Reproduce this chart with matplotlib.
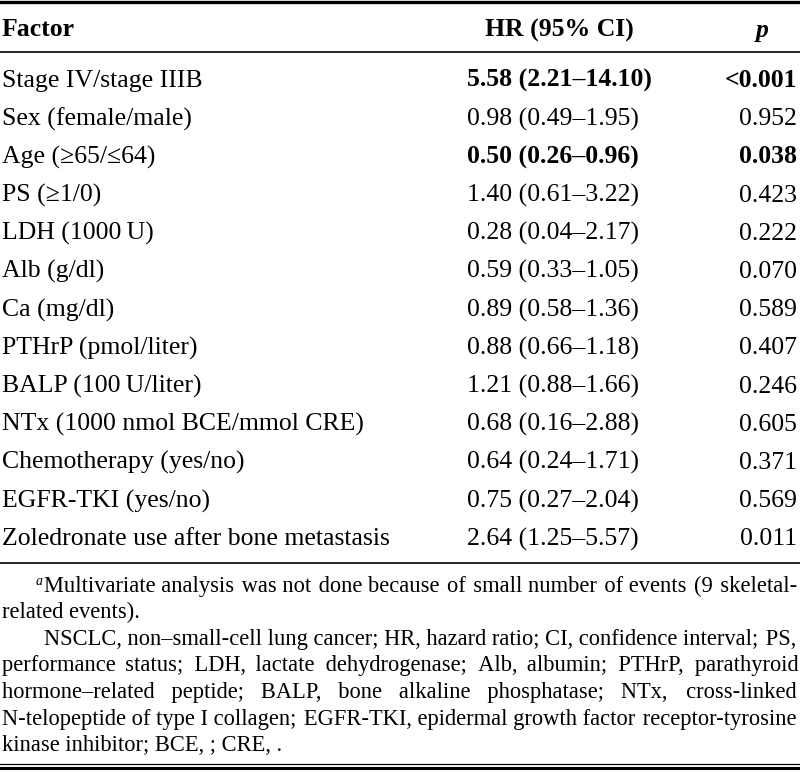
import matplotlib.pyplot as plt

# table contents
factors = ["Stage IV/stage IIIB", "Sex (female/male)", "Age (≥65/≤64)", "PS (≥1/0)",
           "LDH (1000\u2009U)", "Alb (g/dl)", "Ca (mg/dl)", "PTHrP (pmol/liter)",
           "BALP (100\u2009U/liter)", "NTx (1000 nmol BCE/mmol CRE)",
           "Chemotherapy (yes/no)", "EGFR-TKI (yes/no)",
           "Zoledronate use after bone metastasis"]
hr = [5.58, 0.98, 0.50, 1.40, 0.28, 0.59, 0.89, 0.88, 1.21, 0.68, 0.64, 0.75, 2.64]
ci_low = [2.21, 0.49, 0.26, 0.61, 0.04, 0.33, 0.58, 0.66, 0.88, 0.16, 0.24, 0.27, 1.25]
ci_high = [14.10, 1.95, 0.96, 3.22, 2.17, 1.05, 1.36, 1.18, 1.66, 2.88, 1.71, 2.04, 5.57]
p_vals = ["<0.001", "0.952", "0.038", "0.423", "0.222", "0.070", "0.589",
          "0.407", "0.246", "0.605", "0.371", "0.569", "0.011"]
bold_rows = [True, False, True, False, False, False, False,
             False, False, False, False, False, False]

# footnote lines: (text, indented, justified)
note_lines = [
    ("Multivariate analysis was not done because of small number of events (9 skeletal-", True, True),
    ("related events).", False, False),
    ("NSCLC, non\u2013small-cell lung cancer; HR, hazard ratio; CI, confidence interval; PS,", True, True),
    ("performance status; LDH, lactate dehydrogenase; Alb, albumin; PTHrP, parathyroid", False, True),
    ("hormone\u2013related peptide; BALP, bone alkaline phosphatase; NTx, cross-linked", False, True),
    ("N-telopeptide of type I collagen; EGFR-TKI, epidermal growth factor receptor-tyrosine", False, True),
    ("kinase inhibitor; BCE, ; CRE, .", False, False),
]

font = "Liberation Serif"
fam = [font, "DejaVu Serif"]
fs = 18.5

fig = plt.figure(figsize=(8, 7.72), dpi=100)
ax = fig.add_axes([0, 0, 1, 1])
ax.set_xlim(0, 800)
ax.set_ylim(772, 0)
ax.axis("off")

# rules
ax.plot([0, 800], [1.5, 1.5], color="black", lw=2.4)
ax.plot([0, 800], [52, 52], color="black", lw=1.2)
ax.plot([0, 800], [562.5, 562.5], color="black", lw=1.2)
ax.plot([0, 800], [763.5, 763.5], color="black", lw=0.9)
ax.plot([0, 800], [767.5, 767.5], color="black", lw=2.2)

# header
ax.text(2, 36.5, "Factor", fontsize=fs, family=font, weight="bold", va="baseline")
ax.text(559, 36.5, "HR (95% CI)", fontsize=fs, family=font, weight="bold",
        va="baseline", ha="center")
ax.text(762, 36.5, "p", fontsize=fs, family=font, weight="bold", style="italic",
        va="baseline", ha="center")

# rows
for i, name in enumerate(factors):
    y = 87 + i * 38.2
    w = "bold" if bold_rows[i] else "normal"
    ax.text(2, y, name, fontsize=fs, family=fam, va="baseline")
    ax.text(467, y, f"{hr[i]:.2f} ({ci_low[i]:.2f}\u2013{ci_high[i]:.2f})",
            fontsize=fs, family=font, weight=w, va="baseline")
    ax.text(797, y, p_vals[i], fontsize=fs, family=font, weight=w,
            va="baseline", ha="right")

renderer = fig.canvas.get_renderer()


def text_width(s, size):
    t = ax.text(0, 0, s, fontsize=size, family=fam)
    wd = t.get_window_extent(renderer).width
    t.remove()
    return wd


# footnote size: the longest line should just fit
fs_note = 16 * 792 / text_width(note_lines[5][0], 16)
hair = (text_width("x" + "\u200a" * 40 + "x", fs_note) - text_width("xx", fs_note)) / 40

# footnotes, justified by padding the word gaps with hair spaces
right = 797
for j, (line, indent, justify) in enumerate(note_lines):
    y = 592 + j * 26.5
    x0 = 44 if indent else 2
    if j == 0:
        ax.text(36, y - 7, "a", fontsize=10, family=font, style="italic", va="baseline")
    s = line
    if justify:
        words = line.split(" ")
        n = len(words) - 1
        extra = right - x0 - text_width(line, fs_note)
        total = max(0, int(round(extra / hair)))
        s = words[0]
        for k in range(n):
            pad = (k + 1) * total // n - k * total // n
            s += " " + "\u200a" * pad + words[k + 1]
    ax.text(x0, y, s, fontsize=fs_note, family=fam, va="baseline")

plt.savefig("out.png", dpi=100)
